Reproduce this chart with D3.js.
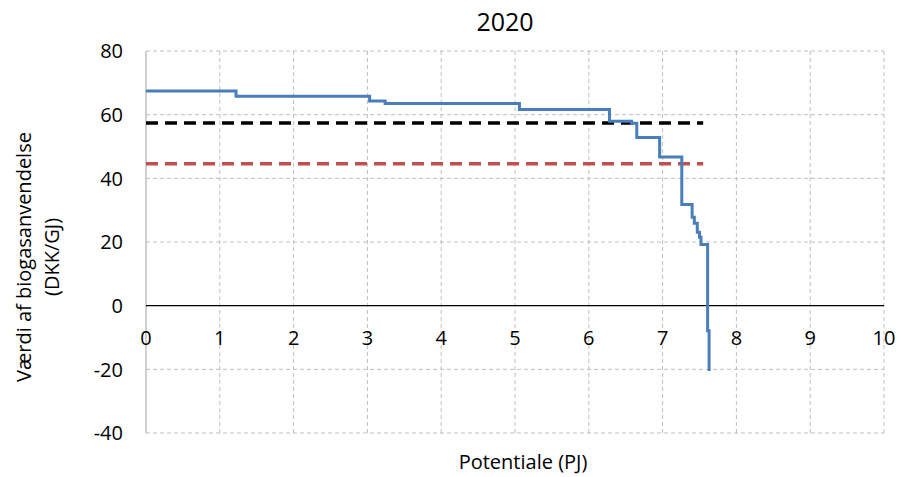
<!DOCTYPE html>
<html>
<head>
<meta charset="utf-8">
<script src="https://cdn.jsdelivr.net/npm/d3@7"></script>
<style>
  body { margin: 0; background: #fff; }
  svg { font-family: "Open Sans", Lato, sans-serif; }
</style>
</head>
<body>
<div id="chart"></div>
<script>
// step curve: potential (PJ) where each step starts, and value (DKK/GJ)
const stepX = [0, 1.22, 3.03, 3.24, 5.06, 6.28, 6.58, 6.65, 6.96, 7.26, 7.40, 7.43, 7.47, 7.50, 7.52, 7.61, 7.63];
const stepY = [67.4, 65.8, 64.3, 63.5, 61.6, 57.9, 57.3, 52.8, 46.7, 31.8, 27.8, 25.9, 23.1, 21.5, 19.2, -7.9, -20.5];

// reference levels (dashed)
const refX = [0, 7.55];
const blackLevel = [57.4, 57.4];
const redLevel = [44.6, 44.6];

const xTicks = [0, 1, 2, 3, 4, 5, 6, 7, 8, 9, 10];
const yTicks = [-40, -20, 0, 20, 40, 60, 80];

const width = 901, height = 477,
      margin = ({ top: 51, right: 17, bottom: 44, left: 146 });

let svg = d3.select("#chart")
    .append("svg")
    .attr("width", width)
    .attr("height", height);

let x = d3.scaleLinear()
    .domain([0, 10])
    .range([margin.left, width - margin.right]);

let y = d3.scaleLinear()
    .domain([-40, 80])
    .range([height - margin.bottom, margin.top]);

// grid
svg.append("g")
    .selectAll("line")
    .data(xTicks.slice(1))
    .join("line")
    .attr("x1", d => x(d)).attr("x2", d => x(d))
    .attr("y1", y(80)).attr("y2", y(-40))
    .attr("stroke", "#bfbfbf")
    .attr("stroke-dasharray", "4,3");

svg.append("g")
    .selectAll("line")
    .data(yTicks.filter(d => d !== 0))
    .join("line")
    .attr("x1", x(0)).attr("x2", x(10))
    .attr("y1", d => y(d)).attr("y2", d => y(d))
    .attr("stroke", "#bfbfbf")
    .attr("stroke-dasharray", "4,3");

// left axis line
svg.append("line")
    .attr("x1", x(0)).attr("x2", x(0))
    .attr("y1", y(80)).attr("y2", y(-40))
    .attr("stroke", "#bfbfbf")
    .attr("stroke-width", 1.5);

// zero line
svg.append("line")
    .attr("x1", x(0)).attr("x2", x(10))
    .attr("y1", y(0)).attr("y2", y(0))
    .attr("stroke", "#000")
    .attr("stroke-width", 1.3);

// tick labels
svg.append("g")
    .selectAll("text")
    .data(yTicks)
    .join("text")
    .attr("x", x(0) - 23)
    .attr("y", d => y(d))
    .attr("dy", "0.36em")
    .attr("text-anchor", "end")
    .attr("font-size", 20)
    .text(d => d);

svg.append("g")
    .selectAll("text")
    .data(xTicks)
    .join("text")
    .attr("x", d => x(d))
    .attr("y", y(0) + 32)
    .attr("dy", "0.36em")
    .attr("text-anchor", "middle")
    .attr("font-size", 20)
    .text(d => d);

// dashed reference lines
const refLine = d3.line()
    .x((d, i) => x(refX[i]))
    .y(d => y(d));

svg.append("path")
    .attr("d", refLine(redLevel))
    .attr("fill", "none")
    .attr("stroke", "#c0504d")
    .attr("stroke-width", 3.5)
    .attr("stroke-dasharray", "12,7");

svg.append("path")
    .attr("d", refLine(blackLevel))
    .attr("fill", "none")
    .attr("stroke", "#000")
    .attr("stroke-width", 3.5)
    .attr("stroke-dasharray", "12,7");

// step curve
const step = d3.line()
    .x((d, i) => x(stepX[i]))
    .y(d => y(d))
    .curve(d3.curveStepAfter);

svg.append("path")
    .attr("d", step(stepY))
    .attr("fill", "none")
    .attr("stroke", "#4a7ebb")
    .attr("stroke-width", 3);

// titles
svg.append("text")
    .attr("x", 505)
    .attr("y", 22)
    .attr("dy", "0.36em")
    .attr("text-anchor", "middle")
    .attr("font-size", 25)
    .text("2020");

svg.append("text")
    .attr("x", 523)
    .attr("y", 462)
    .attr("dy", "0.36em")
    .attr("text-anchor", "middle")
    .attr("font-size", 20)
    .text("Potentiale (PJ)");

let yTitle = svg.append("text")
    .attr("transform", "translate(24,257) rotate(-90)")
    .attr("text-anchor", "middle")
    .attr("font-size", 20);

yTitle.append("tspan")
    .attr("x", 0).attr("dy", "0.36em")
    .text("Værdi af biogasanvendelse");

yTitle.append("tspan")
    .attr("x", 0).attr("dy", "1.4em")
    .text("(DKK/GJ)");
</script>
</body>
</html>
